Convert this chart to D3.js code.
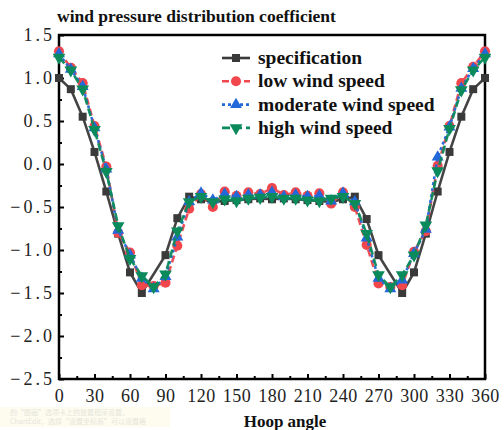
<!DOCTYPE html>
<html>
<head>
<meta charset="utf-8">
<script src="https://cdn.jsdelivr.net/npm/d3@7"></script>
<style>
  html, body { margin: 0; padding: 0; background: #fff; }
  svg { display: block; }
</style>
</head>
<body>
<svg id="chart" width="504" height="430"></svg>
<script>
// Hoop angle (degrees) for the measured series
const angles = [0, 10, 20, 30, 40, 50, 60, 70, 80, 90, 100, 110, 120, 130, 140, 150, 160, 170, 180,
  190, 200, 210, 220, 230, 240, 250, 260, 270, 280, 290, 300, 310, 320, 330, 340, 350, 360];

// Code (specification) curve, given without the 80° / 280° points
const specAngles = [0, 10, 20, 30, 40, 50, 60, 70, 90, 100, 110, 120, 130, 140, 150, 160, 170, 180,
  190, 200, 210, 220, 230, 240, 250, 260, 270, 290, 300, 310, 320, 330, 340, 350, 360];
const specification = [1.00, 0.87, 0.55, 0.14, -0.32, -0.81, -1.26, -1.50, -1.06, -0.63, -0.38, -0.41,
  -0.44, -0.43, -0.42, -0.41, -0.40, -0.41, -0.40, -0.41, -0.42, -0.43, -0.44, -0.41, -0.38,
  -0.64, -1.06, -1.50, -1.26, -0.81, -0.32, 0.14, 0.55, 0.87, 1.00];

const lowWind = [1.31, 1.12, 0.94, 0.44, -0.03, -0.80, -1.03, -1.41, -1.42, -1.38, -0.95, -0.52, -0.35,
  -0.50, -0.32, -0.37, -0.33, -0.35, -0.28, -0.36, -0.33, -0.37, -0.34, -0.46, -0.33, -0.50,
  -0.94, -1.39, -1.43, -1.41, -1.02, -0.78, -0.02, 0.44, 0.94, 1.13, 1.31];

const moderateWind = [1.28, 1.10, 0.90, 0.42, -0.06, -0.77, -1.06, -1.33, -1.45, -1.31, -0.85, -0.44, -0.34,
  -0.42, -0.35, -0.38, -0.36, -0.36, -0.33, -0.38, -0.36, -0.38, -0.37, -0.43, -0.34, -0.44,
  -0.86, -1.33, -1.45, -1.35, -1.04, -0.76, 0.08, 0.43, 0.88, 1.11, 1.28];

const highWind = [1.24, 1.09, 0.87, 0.40, -0.09, -0.72, -1.10, -1.30, -1.43, -1.28, -0.78, -0.44, -0.38,
  -0.44, -0.41, -0.43, -0.40, -0.39, -0.38, -0.40, -0.40, -0.42, -0.43, -0.40, -0.38, -0.46,
  -0.81, -1.29, -1.43, -1.29, -1.06, -0.71, -0.08, 0.41, 0.86, 1.09, 1.24];

const xTicks = [0, 30, 60, 90, 120, 150, 180, 210, 240, 270, 300, 330, 360];
const yTicks = [-2.5, -2.0, -1.5, -1.0, -0.5, 0.0, 0.5, 1.0, 1.5];

const series = [
  { name: "specification", xs: specAngles, ys: specification, color: "#3a3a3a", dash: null, symbol: d3.symbolSquare, size: 64, rotate: 0 },
  { name: "low wind speed", xs: angles, ys: lowWind, color: "#f0464c", dash: "7,4", symbol: d3.symbolCircle, size: 80, rotate: 0 },
  { name: "moderate wind speed", xs: angles, ys: moderateWind, color: "#2368d8", dash: "3,3", symbol: d3.symbolTriangle, size: 62, rotate: 0 },
  { name: "high wind speed", xs: angles, ys: highWind, color: "#0b8a5c", dash: "8,4", symbol: d3.symbolTriangle, size: 70, rotate: 180 }
];

const svg = d3.select("#chart");
const serif = "'Liberation Serif', 'DejaVu Serif', serif";

const x = d3.scaleLinear().domain([0, 360]).range([59, 485]);
const y = d3.scaleLinear().domain([-2.5, 1.5]).range([379, 35]);

// faint note strip under the axis
const note = svg.append("g");
note.append("rect").attr("x", 0).attr("y", 407).attr("width", 170).attr("height", 20).attr("fill", "#fdfcef");
note.append("text").attr("x", 10).attr("y", 415).attr("font-size", 7)
  .attr("font-family", "'Noto Sans CJK SC', sans-serif").attr("fill", "#e6e5dc")
  .text("的“图画”选项卡上的放置程序设置。");
note.append("text").attr("x", 10).attr("y", 424).attr("font-size", 7)
  .attr("font-family", "'Noto Sans CJK SC', sans-serif").attr("fill", "#e6e5dc")
  .text("ChartEdit，选择“设置坐标系”可以设置格");

// title
svg.append("text").attr("x", 57).attr("y", 22)
  .attr("font-family", serif).attr("font-weight", "bold").attr("font-size", 17.5)
  .attr("fill", "#111").text("wind pressure distribution coefficient");

// axes with inward ticks
const fmtY = d3.format(".1f");
const xAxis = d3.axisBottom(x).tickValues(xTicks).tickSize(-5).tickPadding(10).tickFormat(d3.format("d"));
const yAxis = d3.axisLeft(y).tickValues(yTicks).tickSize(-5).tickPadding(4).tickFormat(fmtY);

const gx = svg.append("g").attr("transform", `translate(0,${y(-2.5)})`).call(xAxis);
const gy = svg.append("g").attr("transform", `translate(${x(0)},0)`).call(yAxis);
[gx, gy].forEach(g => {
  g.select(".domain").remove();
  g.selectAll(".tick line").attr("stroke", "#000").attr("stroke-width", 2);
  g.selectAll(".tick text").attr("font-family", serif).attr("font-size", 18).attr("fill", "#222");
});
gy.selectAll(".tick text").attr("letter-spacing", "3px");
gx.selectAll(".tick text").attr("letter-spacing", "0.5px");

// minor ticks
const xMinor = d3.axisBottom(x).tickValues(d3.range(15, 360, 30)).tickSize(-3).tickFormat("");
const yMinor = d3.axisLeft(y).tickValues(d3.range(-2.25, 1.5, 0.5)).tickSize(-3).tickFormat("");
[svg.append("g").attr("transform", `translate(0,${y(-2.5)})`).call(xMinor),
 svg.append("g").attr("transform", `translate(${x(0)},0)`).call(yMinor)].forEach(g => {
  g.select(".domain").remove();
  g.selectAll(".tick line").attr("stroke", "#000").attr("stroke-width", 2);
});

// frame
svg.append("rect").attr("x", x(0)).attr("y", y(1.5))
  .attr("width", x(360) - x(0)).attr("height", y(-2.5) - y(1.5))
  .attr("fill", "none").attr("stroke", "#000").attr("stroke-width", 2.5);

// axis title
svg.append("text").attr("x", 285).attr("y", 427).attr("text-anchor", "middle")
  .attr("font-family", serif).attr("font-weight", "bold").attr("font-size", 17)
  .attr("fill", "#111").text("Hoop angle");

// series
const plot = svg.append("g");
series.forEach(s => {
  const pts = s.xs.map((a, i) => [a, s.ys[i]]);
  plot.append("path").datum(pts)
    .attr("d", d3.line().x(d => x(d[0])).y(d => y(d[1])))
    .attr("fill", "none").attr("stroke", s.color).attr("stroke-width", 2.6)
    .attr("stroke-dasharray", s.dash).attr("opacity", 0.95);
  const sym = d3.symbol().type(s.symbol).size(s.size);
  plot.selectAll(null).data(pts).enter().append("path")
    .attr("d", sym)
    .attr("transform", d => `translate(${x(d[0])},${y(d[1])}) rotate(${s.rotate})`)
    .attr("fill", s.color);
});

// legend
const legend = svg.append("g");
series.forEach((s, i) => {
  const cy = 58 + i * 23.3;
  legend.append("line").attr("x1", 222).attr("x2", 250).attr("y1", cy).attr("y2", cy)
    .attr("stroke", s.color).attr("stroke-width", 2.6).attr("stroke-dasharray", s.dash);
  legend.append("path").attr("d", d3.symbol().type(s.symbol).size(s.size))
    .attr("transform", `translate(236,${cy}) rotate(${s.rotate})`).attr("fill", s.color);
  legend.append("text").attr("x", 258).attr("y", cy + 6)
    .attr("font-family", serif).attr("font-weight", "bold").attr("font-size", 19.5)
    .attr("fill", "#111").text(s.name);
});
</script>
</body>
</html>
